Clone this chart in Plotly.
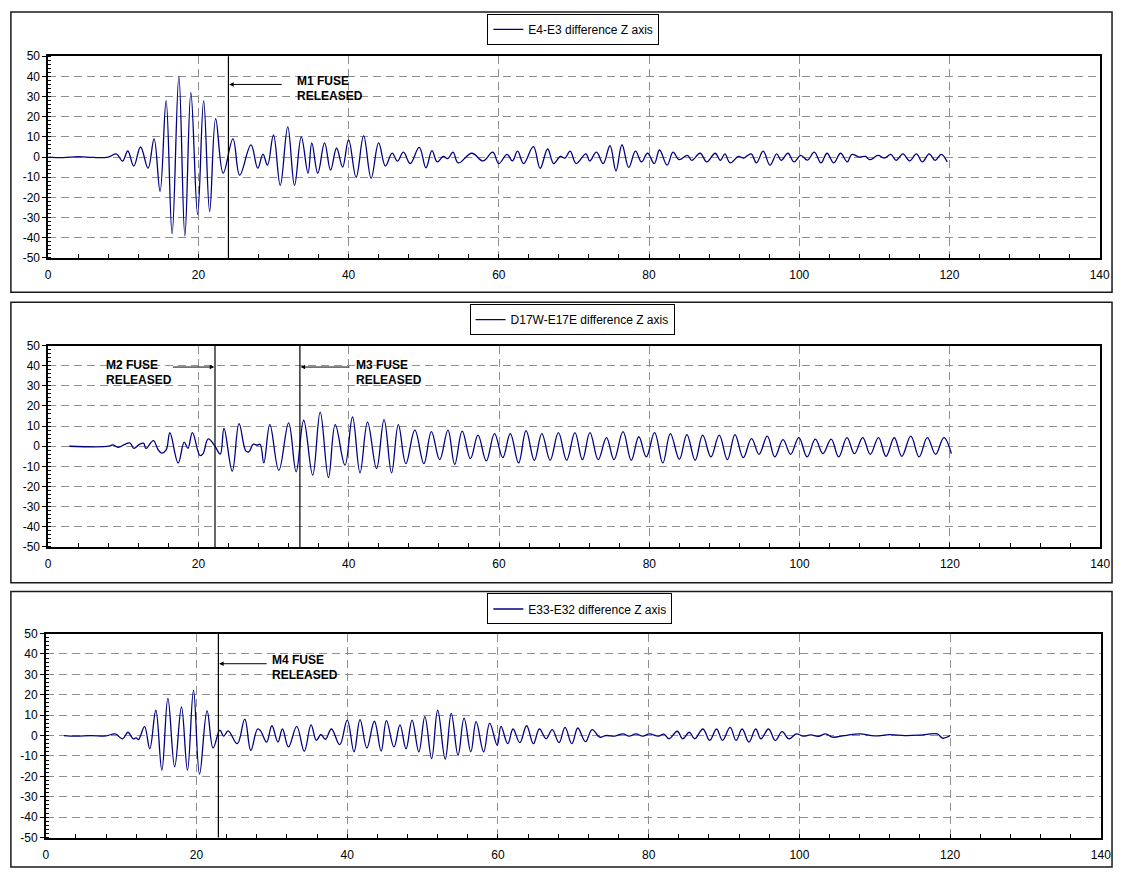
import plotly.graph_objects as go

# ---------------- data ----------------
series_names = ["E4-E3 difference Z axis", "D17W-E17E difference Z axis", "E33-E32 difference Z axis"]

t1 = [0, 2, 4, 6, 8, 9.1, 9.9, 10.6, 11.4, 12.3,
      13.3, 14.1, 14.9, 15.7, 16.5, 17.4, 18.2, 19.0, 19.9, 20.7,
      21.5, 22.3, 23.3, 24.6, 25.5, 27.0, 27.9, 28.6, 29.2, 30.0,
      30.9, 31.9, 32.8, 33.7, 34.6, 35.1, 35.9, 36.8, 37.6, 38.4,
      39.2, 40.0, 41.0, 42.0, 43.0, 44.0, 44.9, 45.8, 46.5, 47.3,
      48.2, 49.4, 50.3, 51.1, 51.8, 52.6, 53.2, 53.9, 54.6, 56.4,
      57.9, 59.2, 60.0, 61.1, 61.8, 62.5, 63.3, 64.6, 65.5, 66.5,
      67.3, 68.2, 68.8, 69.5, 70.3, 71.6, 72.1, 73.0, 73.9, 74.8,
      75.6, 76.4, 77.3, 78.2, 79.0, 79.8, 80.7, 81.4, 82.4, 83.2,
      84.0, 85.1, 85.7, 86.8, 87.7, 88.8, 89.5, 90.1, 90.8, 91.9,
      92.6, 93.6, 94.3, 95.2, 96.1, 97.0, 97.6, 98.5, 99.3, 100.2,
      101.1, 102.0, 102.9, 103.7, 104.6, 105.5, 106.4, 107.0, 108.0, 108.8,
      109.4, 110.5, 111.3, 112.2, 112.9, 113.8, 114.7, 115.6, 116.4, 117.3,
      118.1, 118.9, 119.7]
z1 = [0, -0.3, 0.2, -0.2, 0, 1.5, -2, 3, -4.5, 5,
      -5.5, 9, -17, 28, -38, 40, -39, 32, -28.5, 28,
      -27, 19, -8, 9, -9, 6, -5.5, 1.5, -4, 11,
      -14, 15, -14, 10, -8, 7, -8, 7, -6.5, 4.5,
      -5, 8.5, -10, 10.5, -10.5, 7, -4.5, 2, -2, 2.4,
      -3.2, 4.8, -5.3, 3.2, -2.4, 0.3, -0.8, 2.4, -2.9, 1.9,
      -1.9, 2.4, -3.2, 1.3, -1.9, 2.9, -3.2, 5.2, -5.6, 4,
      -3.2, 0.3, -0.5, 2.9, -3.2, 1.6, -1.9, 2.4, -3.2, 5.6,
      -6.8, 6.1, -5.2, 2.9, -2.4, 1.9, -3.2, 3.5, -4, 2.4,
      -1.3, 0.8, -1.6, 1.9, -2.4, 1.9, -1.6, 1.6, -2.9, 0.3,
      -0.5, 1.6, -2.9, 2.9, -4, 1.6, -1.6, 1.9, -2.4, 0.8,
      -1.5, 2.4, -2.9, 1.9, -2.9, 1.9, -2.4, 1.3, 0, 0.3,
      -1.3, 0.8, -0.5, 1.3, -1.6, 1.6, -1.9, 1.6, -2.4, 1.6,
      -1.6, 1.3, -2.4]

t2 = [2.8, 8.1, 8.6, 9.3, 10.3, 10.9, 11.4, 12.1, 12.7, 13.0,
      14.0, 14.6, 15.1, 15.7, 16.2, 17.3, 18.1, 18.6, 19.2, 20.2,
      20.6, 21.3, 22.2, 22.9, 23.4, 24.5, 25.4, 26.3, 26.7, 27.3,
      27.8, 28.2, 28.7, 29.5, 30.7, 32.0, 33.0, 34.0, 35.2, 36.2,
      37.3, 38.2, 39.5, 40.5, 41.5, 42.5, 43.7, 44.7, 45.7, 46.6,
      47.6, 48.8, 50.0, 51.0, 52.1, 53.2, 54.1, 55.1, 56.2, 57.2,
      58.3, 59.4, 60.5, 61.5, 62.6, 63.6, 64.7, 65.7, 66.8, 67.9,
      69.0, 70.1, 71.1, 72.1, 73.2, 74.3, 75.3, 76.5, 77.6, 78.6,
      79.6, 80.7, 81.8, 82.8, 84.0, 85.0, 86.1, 87.1, 88.2, 89.3,
      90.4, 91.4, 92.5, 93.6, 94.6, 95.7, 96.7, 97.8, 98.8, 99.9,
      101.0, 102.1, 103.1, 104.2, 105.2, 106.3, 107.3, 108.4, 109.4, 110.5,
      111.5, 112.6, 113.6, 114.8, 115.9, 117.0, 118.1, 119.2, 120.2]
z2 = [0, 0, 0.7, -0.5, 1.1, 1.6, -1.1, 0.8, 1.5, -1.1,
      2.8, -1.5, -3.4, -1.8, 6.7, -8.3, 2, -1, 6.8, -4.6,
      -3.8, 3.6, 0, -3.9, 8.8, -12.4, 11.2, -2.3, -2.8, 1,
      0.5, 1, -8.3, 10.7, -12, 11.6, -12.7, 12.9, -14.3, 16.9,
      -15.6, 10.7, -9.4, 14.5, -13.2, 12, -11.1, 13.2, -13.2, 10.7,
      -8.6, 8, -8.6, 7.2, -6.7, 8, -9, 7.5, -6.2, 5.5,
      -7.3, 6.3, -5.7, 6.3, -8.3, 7.7, -7, 6.3, -7, 6.8,
      -7, 6.8, -6.7, 6.8, -6.7, 4.3, -6.7, 7.2, -7, 4.7,
      -5.3, 6.8, -8.3, 6.3, -6.5, 5.8, -7, 5.5, -5.3, 5.5,
      -6.7, 5.8, -5.7, 3.8, -4, 5, -5.3, 3.3, -4, 4.3,
      -5.3, 3.5, -3.7, 3.5, -5.3, 4.3, -3.7, 4.3, -4, 4.3,
      -5, 4.2, -5, 5, -5.3, 4.3, -4, 4.3, -3.7]

t3 = [2.4, 4, 6, 8, 9.2, 10.2, 10.9, 11.6, 12.0, 12.3,
      13.1, 13.8, 14.6, 15.4, 16.2, 17.1, 18.0, 18.8, 19.6, 20.4,
      21.4, 22.2, 23.1, 23.6, 24.2, 25.4, 26.4, 27.2, 28.1, 28.5,
      29.3, 30.0, 30.8, 31.4, 32.2, 33.3, 34.3, 35.2, 35.9, 36.5,
      37.1, 37.9, 39.0, 40.0, 40.9, 41.7, 42.6, 43.6, 44.5, 45.2,
      46.2, 47.0, 47.8, 48.6, 49.5, 50.3, 51.2, 52.0, 53.0, 53.8,
      54.7, 55.5, 56.4, 57.1, 58.1, 58.9, 59.9, 60.4, 61.3, 62.0,
      62.9, 63.8, 64.7, 65.5, 66.4, 67.2, 68.1, 68.9, 69.8, 70.6,
      71.6, 72.5, 73.5, 74.3, 75.5, 76.6, 77.4, 78.3, 79.2, 80.1,
      81.3, 82.0, 82.7, 83.8, 84.5, 85.4, 86.1, 87.2, 88.1, 89.0,
      89.8, 90.8, 91.6, 92.4, 93.3, 94.2, 94.9, 95.9, 96.8, 97.7,
      98.6, 99.6, 100.5, 101.5, 102.5, 103.5, 104.4, 106.0, 108.0, 110.0,
      112.0, 114.0, 116.0, 118.3, 119.0, 120.0]
z3 = [0, -0.3, 0, -0.2, 0.8, -1.6, 1.6, -1.6, -1.2, -2,
      4.4, -6.5, 12.4, -17, 18.2, -15.3, 14, -17, 22.1, -18.9,
      12.1, -6.1, 2.7, -0.3, 2.3, -4, 8, -7.3, 3.2, 2.3,
      -3.2, 4.8, -3.2, 3.2, -5.6, 4.5, -7.7, 5.2, -2.4, 0.5,
      -1.9, 3.2, -4.5, 7.6, -8, 7.8, -6.1, 7, -7.6, 7.3,
      -5.6, 5.2, -6.5, 7.6, -8, 9.3, -11.3, 12.4, -11.6, 10.9,
      -9.7, 8.5, -8, 6.8, -8, 6.1, -4.8, 4.5, -4, 3.2,
      -3.5, 4.8, -4, 3.2, -1.6, 2.9, -3.5, 4, -4, 3.7,
      -3, 2.9, -0.8, 0, -0.3, 0.8, -0.3, 0.8, -0.3, 0.8,
      -0.3, 0.7, -1.6, 2.1, -1.6, 1.6, -1.6, 3.2, -2.4, 3.2,
      -2.4, 4, -2.4, 3.2, -3.2, 3.2, -1.6, 3.2, -2.4, 1.9,
      -1.6, 0.8, -0.3, 0.3, -0.4, 0.8, -0.8, 0, 0.8, -0.2,
      0.4, 0, 0.2, 0.8, -1.3, 0]

# axis ticks
x_ticks = [0, 20, 40, 60, 80, 100, 120, 140]
y_ticks = [-50, -40, -30, -20, -10, 0, 10, 20, 30, 40, 50]

# fuse-release events per panel (time) and their labels
fuse_times = [[24.0], [22.2, 33.5], [22.9]]
fuse_labels = [[("M1 FUSE", "RELEASED")],
               [("M2 FUSE", "RELEASED"), ("M3 FUSE", "RELEASED")],
               [("M4 FUSE", "RELEASED")]]

# ---------------- layout geometry ----------------
W, H = 1125, 877
def px(x): return x / W
def py(y): return 1 - y / H

plot_boxes = [  # left, right, top, bottom in pixels
    (45.7, 1109.5, 50, 255),
    (45.7, 1110.0, 344, 548.7),
    (43.3, 1110.7, 636.7, 844),
]
frames = [(8, 1122, 5, 290), (8, 1122, 300, 585), (8, 1122, 594, 874)]
legend_pos = [(490, 7), (472, 302), (490, 596)]
# arrow geometry: (head x, tail x, y); label anchor (x, y of line 1, y of line 2)
arrows = [[(24.1, 31.3, 36.0)], [(22.1, 16.4, 39.3), (33.6, 40.3, 39.3)], [(23.0, 29.5, 35.2)]]
label_xy = [[(32.9, 37.6, 30.4)], [(7.4, 40.5, 32.7), (40.7, 40.5, 32.7)], [(29.8, 36.8, 29.6)]]

FONT = "Liberation Sans, Arial, sans-serif"
LINE_COLOR = "#000080"
GRID = "#8f8f8f"

fig = go.Figure()
T = [t1, t2, t3]
Z = [z1, z2, z3]
layout = dict(
    width=W, height=H, margin=dict(l=0, r=0, t=0, b=0),
    paper_bgcolor="white", plot_bgcolor="white",
    font=dict(family=FONT, size=12, color="black"),
    shapes=[], annotations=[],
)

for i in range(3):
    sfx = "" if i == 0 else str(i + 1)
    xname, yname = "x" + sfx, "y" + sfx
    lg = "legend" + sfx
    fig.add_trace(go.Scatter(
        x=T[i], y=Z[i], mode="lines", name=series_names[i],
        line=dict(color=LINE_COLOR, width=1.3, shape="spline", smoothing=1.1),
        xaxis=xname, yaxis=yname, legend=lg, showlegend=True,
    ))
    l, r, t, b = plot_boxes[i]
    layout["xaxis" + sfx] = dict(
        domain=[px(l), px(r)], anchor=yname, range=[0, 140],
        tickmode="array", tickvals=x_ticks, ticktext=[str(v) for v in x_ticks],
        showgrid=True, gridcolor=GRID, gridwidth=1, griddash="8px,5px",
        showline=True, linecolor="black", linewidth=1.5, mirror=True,
        ticks="inside", ticklen=4, tickcolor="black", zeroline=False,
        minor=dict(dtick=4, tick0=0, ticks="inside", ticklen=4, tickcolor="black", showgrid=False),
        tickfont=dict(family=FONT, size=12, color="black"), ticklabelstandoff=5,
    )
    layout["yaxis" + sfx] = dict(
        domain=[py(b), py(t)], anchor=xname, range=[-50, 50],
        tickmode="array", tickvals=y_ticks, ticktext=[str(v) for v in y_ticks],
        showgrid=True, gridcolor=GRID, gridwidth=1, griddash="8px,5px",
        showline=True, linecolor="black", linewidth=1.5, mirror=True,
        ticks="outside", ticklen=4, tickcolor="black", zeroline=False,
        minor=dict(dtick=2, tick0=0, ticks="inside", ticklen=3, tickcolor="black", showgrid=False),
        tickfont=dict(family=FONT, size=12, color="black"),
    )
    lx, ly = legend_pos[i]
    layout[lg] = dict(
        x=px(lx), y=py(ly), xanchor="left", yanchor="top",
        bgcolor="white", bordercolor="black", borderwidth=1,
        font=dict(family=FONT, size=12, color="black"),
        itemwidth=30, tracegroupgap=0,
    )
    fx0, fx1, fy0, fy1 = frames[i]
    layout["shapes"].append(dict(type="rect", xref="paper", yref="paper",
                                 x0=px(fx0), x1=px(fx1), y0=py(fy1), y1=py(fy0),
                                 line=dict(color="#1a1a1a", width=1.5), fillcolor="rgba(0,0,0,0)"))
    for j, ft in enumerate(fuse_times[i]):
        layout["shapes"].append(dict(type="line", xref=xname, yref=yname + " domain",
                                     x0=ft, x1=ft, y0=0, y1=1,
                                     line=dict(color="black", width=1.2)))
        hx, tx, ay = arrows[i][j]
        layout["annotations"].append(dict(
            xref=xname, yref=yname, axref=xname, ayref=yname,
            x=hx, y=ay, ax=tx, ay=ay, text="", showarrow=True,
            arrowhead=2, arrowsize=0.9, arrowwidth=1, arrowcolor="black", standoff=0,
        ))
        lxx, ly1, ly2 = label_xy[i][j]
        for txt, yy in zip(fuse_labels[i][j], (ly1, ly2)):
            layout["annotations"].append(dict(
                xref=xname, yref=yname, x=lxx, y=yy, text="<b>" + txt + "</b>",
                showarrow=False, xanchor="left", yanchor="middle", align="left",
                font=dict(family=FONT, size=12, color="black"),
            ))

fig.update_layout(**layout)
fig.write_html("out.html")
